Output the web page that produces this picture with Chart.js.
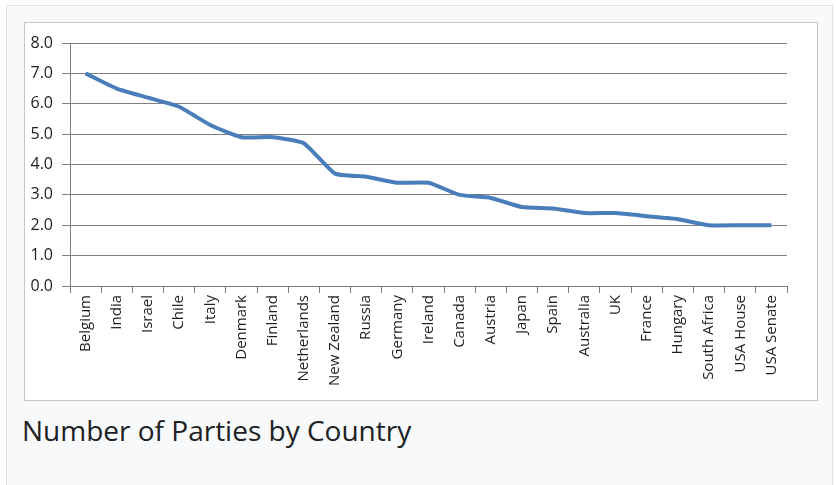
<!DOCTYPE html>
<html>
<head>
<meta charset="utf-8">
<script src="https://cdn.jsdelivr.net/npm/chart.js@4"></script>
<style>
  body { margin: 0; background: #fff; width: 836px; height: 485px; overflow: hidden; position: relative; font-family: "Open Sans", sans-serif; }
  #panel { position: absolute; left: 6px; top: 5px; width: 825px; height: 490px; background: #f8f9fa; border: 1px solid #e2e3e5; }
  #box { position: absolute; left: 24px; top: 22px; width: 792px; height: 377px; background: #fff; border: 1px solid #c6c6c6; }
  #caption { position: absolute; left: 22px; top: 411px; font-size: 28px; color: #202122; white-space: nowrap; }
</style>
</head>
<body>
<div id="panel"></div>
<div id="box"><canvas id="partiesChart"></canvas></div>
<div id="caption">Number of Parties by Country</div>
<script>
const countries = ['Belgium', 'India', 'Israel', 'Chile', 'Italy', 'Denmark', 'Finland', 'Netherlands',
    'New Zealand', 'Russia', 'Germany', 'Ireland', 'Canada', 'Austria', 'Japan', 'Spain',
    'Australia', 'UK', 'France', 'Hungary', 'South Africa', 'USA House', 'USA Senate'];
const parties = [7.0, 6.5, 6.2, 5.9, 5.3, 4.9, 4.9, 4.7, 3.7, 3.6, 3.4, 3.4, 3.0, 2.9, 2.6, 2.55,
    2.4, 2.4, 2.3, 2.2, 2.0, 2.0, 2.0];
const yMin = 0, yMax = 8, yStep = 1;

const ctx = document.getElementById('partiesChart').getContext('2d');
ctx.canvas.width = 792; ctx.canvas.height = 377;

const chart = new Chart(ctx, {
    type: 'line',
    data: {
        labels: countries,
        datasets: [{
            label: 'Number of Parties',
            data: parties,
            borderColor: '#4a7ebb',
            borderWidth: 4,
            pointRadius: 0,
            tension: 0.15,
            fill: false,
        }]
    },
    options: {
        responsive: false,
        animation: false,
        layout: { padding: { left: 0, right: 30, top: 20, bottom: 0 } },
        plugins: { legend: { display: false }, tooltip: { enabled: false } },
        scales: {
            x: {
                offset: true,
                grid: { offset: true, drawOnChartArea: false, tickLength: 7, color: '#7f7f7f' },
                border: { color: '#7f7f7f' },
                ticks: {
                    autoSkip: false, minRotation: 90, maxRotation: 90, padding: 2,
                    color: '#1e1e1e', font: { family: 'Open Sans', size: 15 }
                },
                afterFit: s => { s.height = 114; }
            },
            y: {
                min: yMin, max: yMax,
                grid: { color: '#7f7f7f', tickLength: 8 },
                border: { color: '#7f7f7f' },
                ticks: {
                    stepSize: yStep, padding: 9, color: '#1e1e1e',
                    font: { family: 'Open Sans', size: 16 },
                    callback: v => v.toFixed(1)
                },
                afterFit: s => { s.width = 45; }
            }
        }
    }
});
</script>
</body>
</html>
